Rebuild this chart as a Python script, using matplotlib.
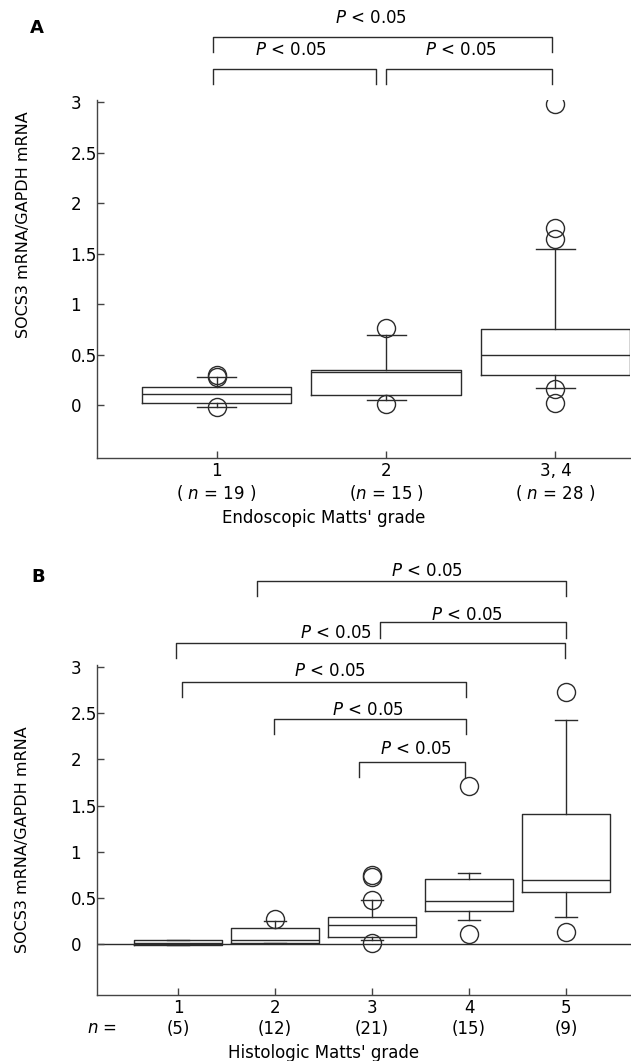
import matplotlib.pyplot as plt

plt.rcParams["font.family"] = ["DejaVu Sans"]
plt.rcParams["mathtext.fontset"] = "dejavusans"
plt.rcParams["font.size"] = 12

# Panel A: endoscopic Matts' grade
grades_a = ["1", "2", "3, 4"]
n_a = ["( $n$ = 19 )", "($n$ = 15 )", "( $n$ = 28 )"]
q1_a = [0.02, 0.10, 0.30]
med_a = [0.11, 0.33, 0.50]
q3_a = [0.18, 0.35, 0.76]
wlo_a = [-0.02, 0.05, 0.17]
whi_a = [0.28, 0.70, 1.55]
out_a = [[0.28, 0.30, -0.02], [0.77, 0.01], [2.98, 1.75, 1.65, 0.16, 0.02]]
pairs_a = [(1, 3), (1, 2), (2, 3)]

# Panel B: histologic Matts' grade
grades_b = ["1", "2", "3", "4", "5"]
n_b = ["(5)", "(12)", "(21)", "(15)", "(9)"]
q1_b = [-0.01, 0.01, 0.08, 0.36, 0.56]
med_b = [0.01, 0.05, 0.21, 0.47, 0.69]
q3_b = [0.04, 0.17, 0.29, 0.71, 1.41]
wlo_b = [-0.01, 0.01, 0.04, 0.26, 0.29]
whi_b = [0.04, 0.25, 0.48, 0.77, 2.42]
out_b = [[], [0.27], [0.75, 0.73, 0.48, 0.01], [1.71, 0.11], [2.73, 0.13]]
pairs_b = [(2, 5), (3, 5), (1, 5), (1, 4), (2, 4), (3, 4)]

LC = "#2b2b2b"


def make_stats(q1, med, q3, wlo, whi, out):
    return [dict(q1=a, med=b, q3=c, whislo=d, whishi=e, fliers=f)
            for a, b, c, d, e, f in zip(q1, med, q3, wlo, whi, out)]


def draw_boxes(ax, stats, width, capw):
    lp = dict(color=LC, linewidth=1.0)
    ax.bxp(stats, positions=range(1, len(stats) + 1), widths=width,
           capwidths=capw, boxprops=lp, whiskerprops=lp, capprops=lp,
           medianprops=lp, manage_ticks=False,
           flierprops=dict(marker="o", markersize=13, markerfacecolor="none",
                           markeredgecolor=LC, markeredgewidth=1.0))


def style_axes(ax):
    for s in ["top", "right"]:
        ax.spines[s].set_visible(False)
    for s in ["left", "bottom"]:
        ax.spines[s].set_color("#444444")
        ax.spines[s].set_linewidth(1.0)
    ax.tick_params(direction="in", length=5, color="#444444", width=1.0)
    ax.tick_params(axis="y", pad=19)
    ax.set_yticks([0, 0.5, 1, 1.5, 2, 2.5, 3])
    ax.set_yticklabels(["0", "0.5", "1", "1.5", "2", "2.5", "3"], ha="left")
    ax.tick_params(axis="x", pad=3)


def bracket(ax, x1, x2, y, drop, tx, ty):
    ax.plot([x1, x1, x2, x2], [y - drop, y, y, y - drop], color=LC,
            linewidth=1.0, clip_on=False)
    ax.text(tx, ty, "$P$ < 0.05", ha="center", va="center", fontsize=12)


fig = plt.figure(figsize=(6.31, 10.61), dpi=100)

# ---------------- panel A
ax1 = fig.add_axes([97 / 631, 1 - 458 / 1061, (630 - 97) / 631, 358 / 1061])
draw_boxes(ax1, make_stats(q1_a, med_a, q3_a, wlo_a, whi_a, out_a), 0.88, 0.23)
ax1.set_xlim(0.294, 3.44)
ax1.set_ylim(-0.52, 3.02)
style_axes(ax1)
ax1.set_xticks(range(1, len(grades_a) + 1))
ax1.set_xticklabels([g + "\n" + n for g, n in zip(grades_a, n_a)])

# bracket layout: (line y, text y, left nudge, right nudge, text x)
lay_a = [(3.64, 3.83, -0.02, -0.02, 1.91),
         (3.33, 3.51, -0.02, -0.06, 1.44),
         (3.33, 3.51, 0.0, -0.02, 2.44)]
for (a, b), (ly, ty, dl, dr, tx) in zip(pairs_a, lay_a):
    bracket(ax1, a + dl, b + dr, ly, 0.15, tx, ty)

fig.text(324 / 631, 1 - 518 / 1061, "Endoscopic Matts' grade", ha="center",
         va="center", fontsize=12)
fig.text(24 / 631, 1 - 225 / 1061, "SOCS3 mRNA/GAPDH mRNA", rotation=90,
         ha="center", va="center", fontsize=11.5)
fig.text(37 / 631, 1 - 28 / 1061, "A", fontsize=13, fontweight="bold",
         ha="center", va="center")

# ---------------- panel B
ax2 = fig.add_axes([97 / 631, 1 - 995 / 1061, (631 - 97) / 631, 330 / 1061])
draw_boxes(ax2, make_stats(q1_b, med_b, q3_b, wlo_b, whi_b, out_b), 0.9, 0.22)
ax2.axhline(0, color=LC, linewidth=1.0, zorder=0)
ax2.set_xlim(0.165, 5.67)
ax2.set_ylim(-0.55, 3.02)
style_axes(ax2)
ax2.set_xticks(range(1, len(grades_b) + 1))
ax2.set_xticklabels([g + "\n" + n for g, n in zip(grades_b, n_b)])

lay_b = [(3.93, 4.04, -0.19, 0.0, 3.57),
         (3.48, 3.56, 0.08, 0.0, 3.98),
         (3.26, 3.37, -0.02, -0.01, 2.63),
         (2.84, 2.95, 0.04, -0.03, 2.57),
         (2.44, 2.53, -0.01, -0.03, 2.96),
         (1.97, 2.11, -0.13, -0.04, 3.45)]
for (a, b), (ly, ty, dl, dr, tx) in zip(pairs_b, lay_b):
    bracket(ax2, a + dl, b + dr, ly, 0.165, tx, ty)

fig.text(102 / 631, 1 - 1028 / 1061, "$n$ =", ha="center", va="center",
         fontsize=12)
fig.text(324 / 631, 1 - 1053 / 1061, "Histologic Matts' grade", ha="center",
         va="center", fontsize=12)
fig.text(23 / 631, 1 - 840 / 1061, "SOCS3 mRNA/GAPDH mRNA", rotation=90,
         ha="center", va="center", fontsize=11.5)
fig.text(38 / 631, 1 - 577 / 1061, "B", fontsize=13, fontweight="bold",
         ha="center", va="center")

fig.savefig("out.png", dpi=100)
